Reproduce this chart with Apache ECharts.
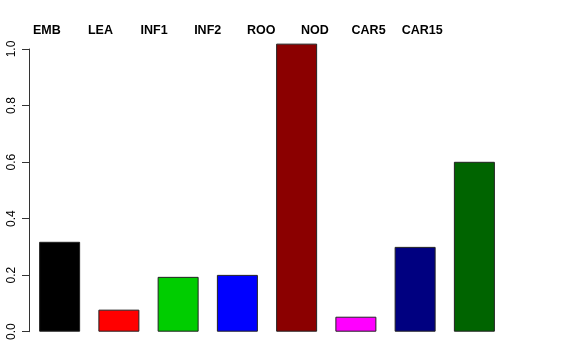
<!DOCTYPE html>
<html>
<head>
<meta charset="utf-8">
<script src="https://cdn.jsdelivr.net/npm/echarts@6/dist/echarts.min.js"></script>
<style>html,body{margin:0;padding:0;background:#fff}#c{width:576px;height:360px}</style>
</head>
<body>
<div id="c"></div>
<script>
var categories = ['EMB', 'LEA', 'INF1', 'INF2', 'ROO', 'NOD', 'CAR5', 'CAR15'];
var values = [0.318, 0.078, 0.194, 0.201, 1.019, 0.053, 0.300, 0.601];
var barColors = ['#000000', '#FF0000', '#00CD00', '#0000FF', '#8B0000', '#FF00FF', '#000080', '#006400'];
var yTicks = [0, 0.2, 0.4, 0.6, 0.8, 1.0];

var chart = echarts.init(document.getElementById('c'), null, {renderer: 'canvas'});
var font = 'Liberation Sans, Arial, Helvetica, sans-serif';
chart.setOption({
  animation: false,
  backgroundColor: '#ffffff',
  grid: [
    {left: 30, width: 474, top: 49, bottom: 28.3},
    {left: 20, width: 429, top: 39, height: 1}
  ],
  xAxis: [
    {type: 'category', gridIndex: 0, data: categories, boundaryGap: true,
     axisLine: {show: false}, axisTick: {show: false}, axisLabel: {show: false}, splitLine: {show: false}},
    {type: 'category', gridIndex: 1, data: categories, position: 'top', boundaryGap: true,
     axisLine: {show: false}, axisTick: {show: false}, splitLine: {show: false},
     axisLabel: {show: true, interval: 0, margin: 2, color: '#000', fontFamily: font, fontWeight: 'bold', fontSize: 12.5}}
  ],
  yAxis: [
    {type: 'value', gridIndex: 0, min: yTicks[0], max: yTicks[yTicks.length - 1], interval: 0.2, offset: 1,
     axisLine: {show: true, lineStyle: {color: '#333', width: 1}},
     axisTick: {show: true, length: 7, lineStyle: {color: '#333', width: 1}},
     splitLine: {show: false},
     axisLabel: {show: true, rotate: 90, margin: 11, color: '#000', fontFamily: font, fontSize: 12,
       formatter: function (v) { return v.toFixed(1); }}},
    {type: 'value', gridIndex: 1, show: false}
  ],
  series: [{
    type: 'bar',
    xAxisIndex: 0, yAxisIndex: 0,
    clip: false,
    barWidth: 41,
    data: values.map(function (v, i) {
      return {value: v, itemStyle: {color: barColors[i], borderColor: '#222', borderWidth: 1}};
    })
  }]
});
</script>
</body>
</html>
